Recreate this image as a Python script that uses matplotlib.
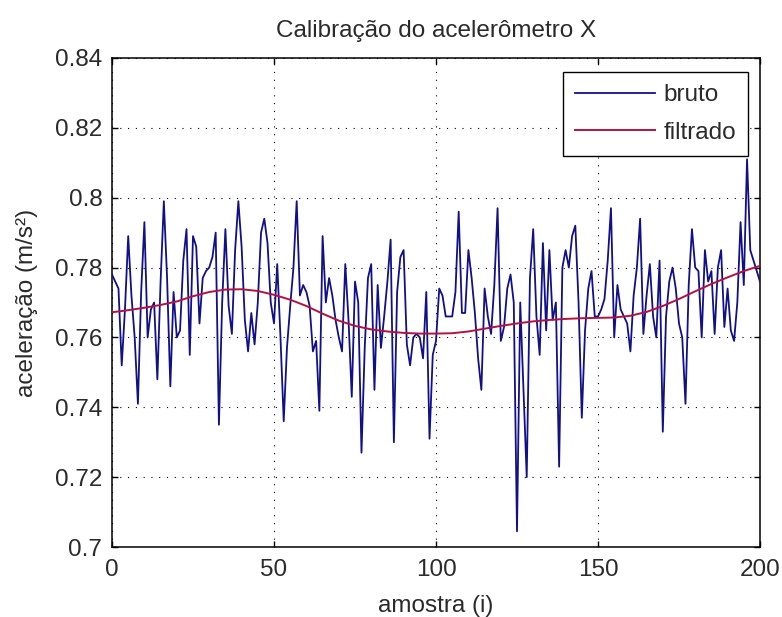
import numpy as np
import matplotlib
matplotlib.use("Agg")
import matplotlib.pyplot as plt

# Raw accelerometer samples (m/s^2), one per sample index 0..200
raw = [
    0.778, 0.776, 0.774, 0.752, 0.768, 0.789, 0.772, 0.760, 0.741, 0.773,
    0.793, 0.760, 0.768, 0.770, 0.748, 0.776, 0.799, 0.777, 0.746, 0.773,
    0.760, 0.762, 0.782, 0.791, 0.755, 0.789, 0.786, 0.764, 0.777, 0.779,
    0.780, 0.783, 0.790, 0.735, 0.770, 0.791, 0.769, 0.761, 0.785, 0.799,
    0.786, 0.765, 0.756, 0.767, 0.758, 0.770, 0.790, 0.794, 0.787, 0.770,
    0.764, 0.781, 0.760, 0.736, 0.757, 0.769, 0.780, 0.799, 0.772, 0.775,
    0.773, 0.769, 0.756, 0.759, 0.739, 0.789, 0.770, 0.777, 0.772, 0.765,
    0.760, 0.756, 0.781, 0.765, 0.743, 0.776, 0.770, 0.727, 0.757, 0.777,
    0.781, 0.745, 0.775, 0.757, 0.766, 0.776, 0.788, 0.730, 0.773, 0.783,
    0.785, 0.758, 0.752, 0.760, 0.761, 0.760, 0.754, 0.773, 0.731, 0.755,
    0.759, 0.774, 0.772, 0.766, 0.766, 0.766, 0.773, 0.796, 0.767, 0.767,
    0.785, 0.777, 0.767, 0.754, 0.745, 0.774, 0.766, 0.761, 0.775, 0.797,
    0.759, 0.763, 0.774, 0.778, 0.770, 0.7045, 0.770, 0.745, 0.720, 0.777,
    0.791, 0.766, 0.755, 0.787, 0.762, 0.785, 0.765, 0.770, 0.723, 0.780,
    0.785, 0.780, 0.789, 0.792, 0.770, 0.737, 0.762, 0.774, 0.779, 0.766,
    0.766, 0.768, 0.771, 0.782, 0.797, 0.760, 0.775, 0.768, 0.766, 0.764,
    0.756, 0.772, 0.780, 0.794, 0.761, 0.772, 0.781, 0.766, 0.760, 0.782,
    0.733, 0.766, 0.776, 0.780, 0.774, 0.764, 0.760, 0.741, 0.775, 0.791,
    0.780, 0.779, 0.760, 0.785, 0.776, 0.779, 0.761, 0.780, 0.785, 0.763,
    0.774, 0.762, 0.759, 0.770, 0.793, 0.775, 0.811, 0.785, 0.782, 0.779,
    0.776,
]
sample_idx = list(range(len(raw)))

# Low-pass filtered signal, every 5 samples
filt_idx = list(range(0, 201, 5))
filtered = [
    0.7672, 0.7678, 0.7685, 0.7693, 0.7703, 0.7718, 0.7730, 0.7737, 0.7738,
    0.7733, 0.7722, 0.7708, 0.7690, 0.7668, 0.7648, 0.7633, 0.7623, 0.7617,
    0.7613, 0.7611, 0.7611, 0.7612, 0.7617, 0.7625, 0.7633, 0.7640, 0.7646,
    0.7650, 0.7653, 0.7655, 0.7656, 0.7657, 0.7662, 0.7673, 0.7690, 0.7710,
    0.7732, 0.7753, 0.7772, 0.7790, 0.7805,
]

x_ticks = [0, 50, 100, 150, 200]
y_ticks = [0.70, 0.72, 0.74, 0.76, 0.78, 0.80, 0.82, 0.84]
y_tick_labels = ["0.7", "0.72", "0.74", "0.76", "0.78", "0.8", "0.82", "0.84"]

plt.rcParams["font.family"] = ["Liberation Sans", "DejaVu Sans"]
FS = 17.5
TXT = "#2a2a2a"

W, H = 782, 617
fig = plt.figure(figsize=(W / 100, H / 100), dpi=100)
L, R, T, B = 112, 760, 58, 547
ax = fig.add_axes([L / W, 1 - B / H, (R - L) / W, (B - T) / H])

ax.plot(sample_idx, raw, color="#10108a", lw=1.3, label="bruto", zorder=3)
ax.plot(filt_idx, filtered, color="#b4123e", lw=1.4, label="filtrado", zorder=4)

ax.set_xlim(0, 200)
ax.set_ylim(0.70, 0.84)
ax.set_xticks(x_ticks)
ax.set_yticks(y_ticks)
ax.set_yticklabels(y_tick_labels)

ax.grid(True, color="black", linestyle=(0, (1, 6)), linewidth=0.8)
for s in ax.spines.values():
    s.set_linewidth(1.1)
    s.set_color("black")

ax.tick_params(direction="in", length=4.5, width=1.0, top=True, right=True,
               labelsize=FS, labelcolor=TXT)
ax.tick_params(axis="x", pad=9)
ax.tick_params(axis="y", pad=7)

ax.set_title("Calibração do acelerômetro X", fontsize=FS, color=TXT, pad=15)
ax.set_xlabel("amostra (i)", fontsize=FS, color=TXT)
ax.set_ylabel("aceleração (m/s²)", fontsize=FS, color=TXT)
ax.xaxis.set_label_coords(0.5, -0.099)
ax.yaxis.set_label_coords(-0.114, 0.5)

leg = ax.legend(loc="upper right", bbox_to_anchor=(0.9815, 0.9714),
                fontsize=FS, frameon=True, fancybox=False, framealpha=1,
                edgecolor="black", borderaxespad=0, handlelength=3.3,
                handletextpad=0.32, borderpad=0.5, labelspacing=0.65)
leg.get_frame().set_linewidth(1.0)
for t in leg.get_texts():
    t.set_color(TXT)

fig.savefig("out.png", dpi=100)
